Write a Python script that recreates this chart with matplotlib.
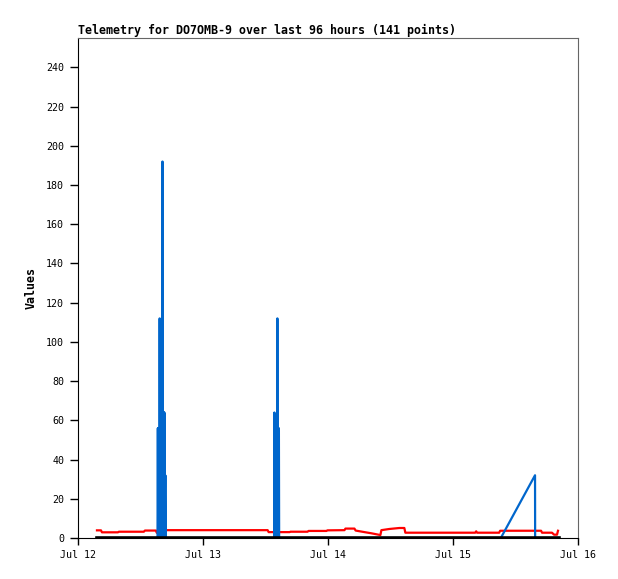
import datetime as dt
import matplotlib
matplotlib.use("Agg")
import matplotlib.pyplot as plt
import matplotlib.dates as mdates

base = dt.datetime(2024, 7, 12)

# hours after Jul 12 00:00 and values
red_hours = [3.64, 4.41, 4.60, 7.66, 7.86, 12.65, 12.84, 14.95, 15.14, 15.33,
             36.41, 36.60, 40.62, 40.81, 44.07, 44.26, 47.71, 47.90, 51.16, 51.35,
             53.08, 53.30, 55.00, 56.33, 57.48, 58.06, 58.25, 59.78, 61.70, 62.66,
             62.85, 76.26, 76.45, 76.64, 80.86, 81.05, 88.91, 89.10, 91.01, 91.40,
             91.97, 92.16]
red_vals = [3.9, 3.9, 2.9, 2.9, 3.2, 3.2, 3.8, 3.8, 2.6, 4.0,
            4.0, 3.0, 3.0, 3.2, 3.2, 3.6, 3.6, 3.9, 4.0, 4.8,
            4.8, 3.8, 3.0, 2.4, 1.8, 1.5, 4.0, 4.6, 5.1, 5.1,
            2.7, 2.7, 3.4, 2.7, 2.7, 3.7, 3.7, 2.7, 2.7, 1.7,
            1.7, 3.7]

blue_hours = [3.64, 15.29,
              15.33, 15.37, 15.42, 15.47, 15.52, 15.56, 15.60, 15.64, 15.68, 15.73,
              15.78, 15.83, 15.88, 15.92, 15.97, 16.01, 16.06, 16.11, 16.16, 16.22,
              16.28, 16.32, 16.36, 16.41, 16.45, 16.50, 16.54, 16.58, 16.64, 16.70,
              16.73, 16.76, 16.80,
              37.67, 37.71, 37.76, 38.24, 38.28, 38.33, 38.53, 38.57, 38.62,
              81.18, 87.75, 87.77, 92.30]
blue_vals = [0, 0,
             56, 0, 56, 0, 56, 0, 56, 0, 112, 0,
             56, 0, 64, 0, 64, 0, 64, 0, 64, 192,
             0, 64, 0, 64, 0, 64, 0, 64, 0, 32,
             0, 32, 0,
             0, 64, 0, 0, 112, 0, 0, 56, 0,
             0, 32, 0, 0]

black_hours = [3.64, 92.30]
black_vals = [0, 0]


def to_dates(hours):
    return [base + dt.timedelta(hours=h) for h in hours]


fig = plt.figure(figsize=(6.18, 5.79), dpi=100)
ax = fig.add_axes([78 / 618, 41 / 579, 500 / 618, 500 / 579])

ax.plot(to_dates(red_hours), red_vals, color="#ff0000", lw=1.6)
ax.plot(to_dates(blue_hours), blue_vals, color="#0066cc", lw=1.6)
ax.plot(to_dates(black_hours), black_vals, color="#000000", lw=2.6)

ax.set_xlim(base, base + dt.timedelta(days=4))
ax.set_ylim(0, 255)
ax.set_yticks(range(0, 241, 20))
ax.xaxis.set_major_locator(mdates.DayLocator())
ax.xaxis.set_major_formatter(mdates.DateFormatter("%b %d"))

mono = "DejaVu Sans Mono"
for lab in ax.get_xticklabels() + ax.get_yticklabels():
    lab.set_family(mono)
    lab.set_fontsize(7.2)
ax.tick_params(axis="y", length=6, width=1, pad=4)
ax.tick_params(axis="x", length=5, width=1, pad=4)

for side in ("top", "right"):
    ax.spines[side].set_color("#666666")
for side in ("left", "bottom"):
    ax.spines[side].set_color("#000000")

ax.set_title("Telemetry for DO7OMB-9 over last 96 hours (141 points)",
             loc="left", family=mono, weight="bold", fontsize=8.4, pad=3)
ax.set_ylabel("Values", family=mono, weight="bold", fontsize=8.4, labelpad=6)

fig.savefig("out.png", dpi=100)
